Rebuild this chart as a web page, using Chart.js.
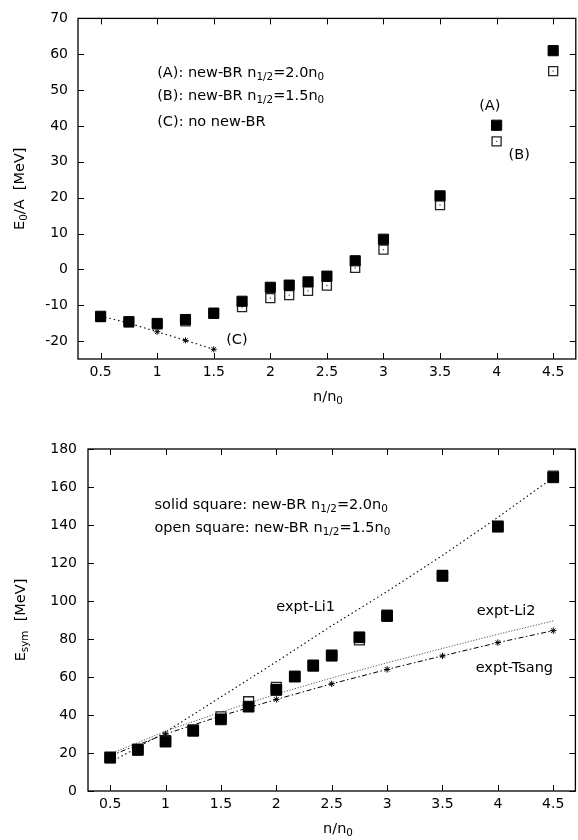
<!DOCTYPE html>
<html>
<head>
<meta charset="utf-8">
<script src="https://cdn.jsdelivr.net/npm/chart.js@4.4.0/dist/chart.umd.min.js"></script>
<style>
  html, body { margin: 0; padding: 0; background: #fff; overflow: hidden; width: 578px; height: 840px; }
  #wrap { position: relative; width: 578px; height: 840px; overflow: hidden; }
  canvas { position: absolute; left: 0; }
</style>
</head>
<body>
<div id="wrap">
  <canvas id="topChart" width="584" height="410" style="top:0"></canvas>
  <canvas id="botChart" width="584" height="420" style="top:420px"></canvas>
</div>
<script>
// density points n/n0
const density = [0.5, 0.75, 1, 1.25, 1.5, 1.75, 2, 2.1667, 2.3333, 2.5, 2.75, 3, 3.5, 4, 4.5];
const densityC = [0.5, 0.75, 1, 1.25, 1.5];
const densityExpt = [0.5, 1, 1.5, 2, 2.5, 3, 3.5, 4, 4.5];

// E0/A [MeV]
const e0A = [-13.1, -14.6, -15.1, -14.0, -12.2, -8.9, -5.0, -4.4, -3.5, -1.9, 2.4, 8.4, 20.5, 40.2, 61.0];
const e0B = [-13.3, -14.8, -15.3, -14.5, -12.4, -10.5, -8.0, -7.2, -6.0, -4.5, 0.4, 5.5, 17.9, 35.7, 55.3];
const e0C = [-13.0, -15.0, -17.4, -19.8, -22.3];

// Esym [MeV]
const esymA = [17.5, 21.6, 26.0, 31.7, 37.7, 44.4, 53.2, 60.2, 65.9, 71.2, 80.9, 92.1, 113.2, 139.1, 165.1];
const esymB = [17.8, 22.0, 26.5, 32.2, 39.0, 47.0, 54.5, 60.3, 66.2, 71.5, 79.5, 92.6, 113.5, 139.4, 165.7];
const exptLi1 = [15.0, 31.0, 49.5, 68.0, 87.0, 105.0, 124.0, 144.0, 165.0];
const exptLi2 = [19.5, 31.5, 41.5, 51.0, 59.5, 67.5, 75.0, 82.5, 89.5];
const exptTsang = [18.5, 30.0, 39.5, 48.2, 56.4, 64.0, 71.1, 78.1, 84.4];

// tick labels
const xTicks = [0.5, 1, 1.5, 2, 2.5, 3, 3.5, 4, 4.5];
const yTicksTop = [-20, -10, 0, 10, 20, 30, 40, 50, 60, 70];
const yTicksBot = [0, 20, 40, 60, 80, 100, 120, 140, 160, 180];

const FONT = '"DejaVu Sans", "Liberation Sans", Arial, sans-serif';

function pts(xs, ys) {
    return xs.map((x, i) => ({ x: x, y: ys[i] }));
}

// draw text with subscripts: parts = [[text, isSub], ...]
function richText(ctx, parts, x, y, size, align) {
    const big = size + 'px ' + FONT;
    const small = (size * 0.72).toFixed(1) + 'px ' + FONT;
    let w = 0;
    parts.forEach(p => {
        ctx.font = p[1] ? small : big;
        w += ctx.measureText(p[0]).width;
    });
    let cx = align === 'center' ? x - w / 2 : x;
    ctx.textAlign = 'left';
    ctx.textBaseline = 'middle';
    parts.forEach(p => {
        ctx.font = p[1] ? small : big;
        ctx.fillText(p[0], cx, y + (p[1] ? size * 0.32 : 0));
        cx += ctx.measureText(p[0]).width;
    });
}

// frame, inward ticks, axis titles and labels
const decor = {
    id: 'decor',
    beforeDatasetsDraw(chart, args, o) {
        const { ctx, chartArea: a, scales: { x, y } } = chart;
        ctx.save();
        ctx.strokeStyle = '#000';
        ctx.lineWidth = 1.3;
        ctx.strokeRect(a.left, a.top, a.right - a.left, a.bottom - a.top);
        ctx.lineWidth = 1;
        ctx.beginPath();
        o.xt.forEach(v => {
            const px = Math.round(x.getPixelForValue(v)) + 0.5;
            ctx.moveTo(px, a.bottom); ctx.lineTo(px, a.bottom - 6);
            ctx.moveTo(px, a.top); ctx.lineTo(px, a.top + 6);
        });
        o.yt.forEach(v => {
            const py = Math.round(y.getPixelForValue(v)) + 0.5;
            ctx.moveTo(a.left, py); ctx.lineTo(a.left + 6, py);
            ctx.moveTo(a.right, py); ctx.lineTo(a.right - 6, py);
        });
        ctx.stroke();
        ctx.restore();
    },
    afterDraw(chart, args, o) {
        const { ctx, chartArea: a, scales: { x, y } } = chart;
        ctx.save();
        ctx.fillStyle = '#000';
        o.texts.forEach(t => {
            richText(ctx, t.parts, x.getPixelForValue(t.x), y.getPixelForValue(t.y), 14.5, t.align);
        });
        // x title
        richText(ctx, o.xTitle, (a.left + 500 / 2), a.bottom + o.xTitleGap, 14.5, 'center');
        // y title
        ctx.translate(o.yTitleX, (a.top + a.bottom) / 2);
        ctx.rotate(-Math.PI / 2);
        richText(ctx, o.yTitle, 0, 0, 14.5, 'center');
        ctx.restore();
    }
};

function scales(yMin, yMax, yTicks, yWidth, xHeight, yPad) {
    return {
        x: {
            type: 'linear', min: 0.3, max: 4.7,
            afterBuildTicks: s => { s.ticks = xTicks.map(v => ({ value: v })); },
            afterFit: s => { s.height = xHeight; },
            grid: { display: false, drawTicks: false },
            border: { display: false },
            ticks: { font: { family: FONT, size: 14 }, color: '#000', padding: 5, maxRotation: 0, autoSkip: false, callback: v => String(v) }
        },
        y: {
            type: 'linear', min: yMin, max: yMax,
            afterBuildTicks: s => { s.ticks = yTicks.map(v => ({ value: v })); },
            afterFit: s => { s.width = yWidth; },
            grid: { display: false, drawTicks: false },
            border: { display: false },
            ticks: { font: { family: FONT, size: 14 }, color: '#000', padding: yPad, autoSkip: false, callback: v => String(v) }
        }
    };
}

const common = {
    responsive: false,
    animation: false,
    events: [],
};

new Chart(document.getElementById('topChart'), {
    type: 'scatter',
    data: {
        datasets: [
            { data: pts(density, e0A), pointStyle: 'rect', pointRadius: 7.2, backgroundColor: '#000', borderColor: '#000', borderWidth: 1, order: 0 },
            { data: pts(density, e0B), pointStyle: 'rect', pointRadius: 0.9, backgroundColor: '#555', borderWidth: 0, order: 1 },
            { data: pts(density, e0B), pointStyle: 'rect', pointRadius: 6.4, backgroundColor: '#fff', borderColor: '#222', borderWidth: 1.3, order: 2 },
            { data: pts(densityC, e0C), showLine: true, borderColor: '#000', borderWidth: 1.1, borderDash: [1.5, 3],
              pointStyle: 'star', pointRadius: 3, pointBorderColor: '#000', pointBorderWidth: 1, order: 3 }
        ]
    },
    options: Object.assign({}, common, {
        layout: { padding: { top: 16, right: 5, left: 0, bottom: 0 } },
        scales: scales(-25, 70, yTicksTop, 78, 51, 10),
        plugins: {
            legend: { display: false },
            tooltip: { enabled: false },
            decor: {
                xt: xTicks, yt: yTicksTop,
                xTitle: [['n/n'], ['0', 1]], xTitleGap: 38,
                yTitle: [['E'], ['0', 1], ['/A  [MeV]']], yTitleX: 20,
                texts: [
                    { x: 1.0, y: 54.8, parts: [['(A): new-BR n'], ['1/2', 1], ['=2.0n'], ['0', 1]] },
                    { x: 1.0, y: 48.4, parts: [['(B): new-BR n'], ['1/2', 1], ['=1.5n'], ['0', 1]] },
                    { x: 1.0, y: 40.9, parts: [['(C): no new-BR']] },
                    { x: 3.94, y: 45.6, parts: [['(A)']], align: 'center' },
                    { x: 4.2, y: 31.8, parts: [['(B)']], align: 'center' },
                    { x: 1.61, y: -19.7, parts: [['(C)']] }
                ]
            }
        }
    }),
    plugins: [decor]
});

new Chart(document.getElementById('botChart'), {
    type: 'scatter',
    data: {
        datasets: [
            { data: pts(density, esymA), pointStyle: 'rect', pointRadius: 7.6, backgroundColor: '#000', borderColor: '#000', borderWidth: 1, order: 0 },
            { data: pts(density, esymB), pointStyle: 'rect', pointRadius: 0.9, backgroundColor: '#555', borderWidth: 0, order: 1 },
            { data: pts(density, esymB), pointStyle: 'rect', pointRadius: 7, backgroundColor: '#fff', borderColor: '#222', borderWidth: 1.3, order: 2 },
            { data: pts(densityExpt, exptTsang), showLine: true, borderColor: '#000', borderWidth: 1, borderDash: [5, 2.5, 1.5, 2.5],
              pointStyle: 'star', pointRadius: 3.2, pointBorderColor: '#000', pointBorderWidth: 1, order: 3 },
            { data: pts(densityExpt, exptLi2), showLine: true, borderColor: '#555', borderWidth: 1, borderDash: [1.2, 1.6], pointRadius: 0, order: 4 },
            { data: pts(densityExpt, exptLi1), showLine: true, borderColor: '#000', borderWidth: 1.1, borderDash: [1.5, 2.8], pointRadius: 0, order: 5 }
        ]
    },
    options: Object.assign({}, common, {
        layout: { padding: { top: 29, right: 4.5, left: 0, bottom: 0 } },
        scales: scales(0, 180, yTicksBot, 88, 49, 11),
        plugins: {
            legend: { display: false },
            tooltip: { enabled: false },
            decor: {
                xt: xTicks, yt: yTicksBot,
                xTitle: [['n/n'], ['0', 1]], xTitleGap: 38,
                yTitle: [['E'], ['sym', 1], ['  [MeV]']], yTitleX: 21,
                texts: [
                    { x: 0.9, y: 150.5, parts: [['solid square: new-BR n'], ['1/2', 1], ['=2.0n'], ['0', 1]] },
                    { x: 0.9, y: 138.4, parts: [['open square: new-BR n'], ['1/2', 1], ['=1.5n'], ['0', 1]] },
                    { x: 2.0, y: 96.8, parts: [['expt-Li1']] },
                    { x: 3.81, y: 94.7, parts: [['expt-Li2']] },
                    { x: 3.8, y: 64.7, parts: [['expt-Tsang']] }
                ]
            }
        }
    }),
    plugins: [decor]
});
</script>
</body>
</html>
